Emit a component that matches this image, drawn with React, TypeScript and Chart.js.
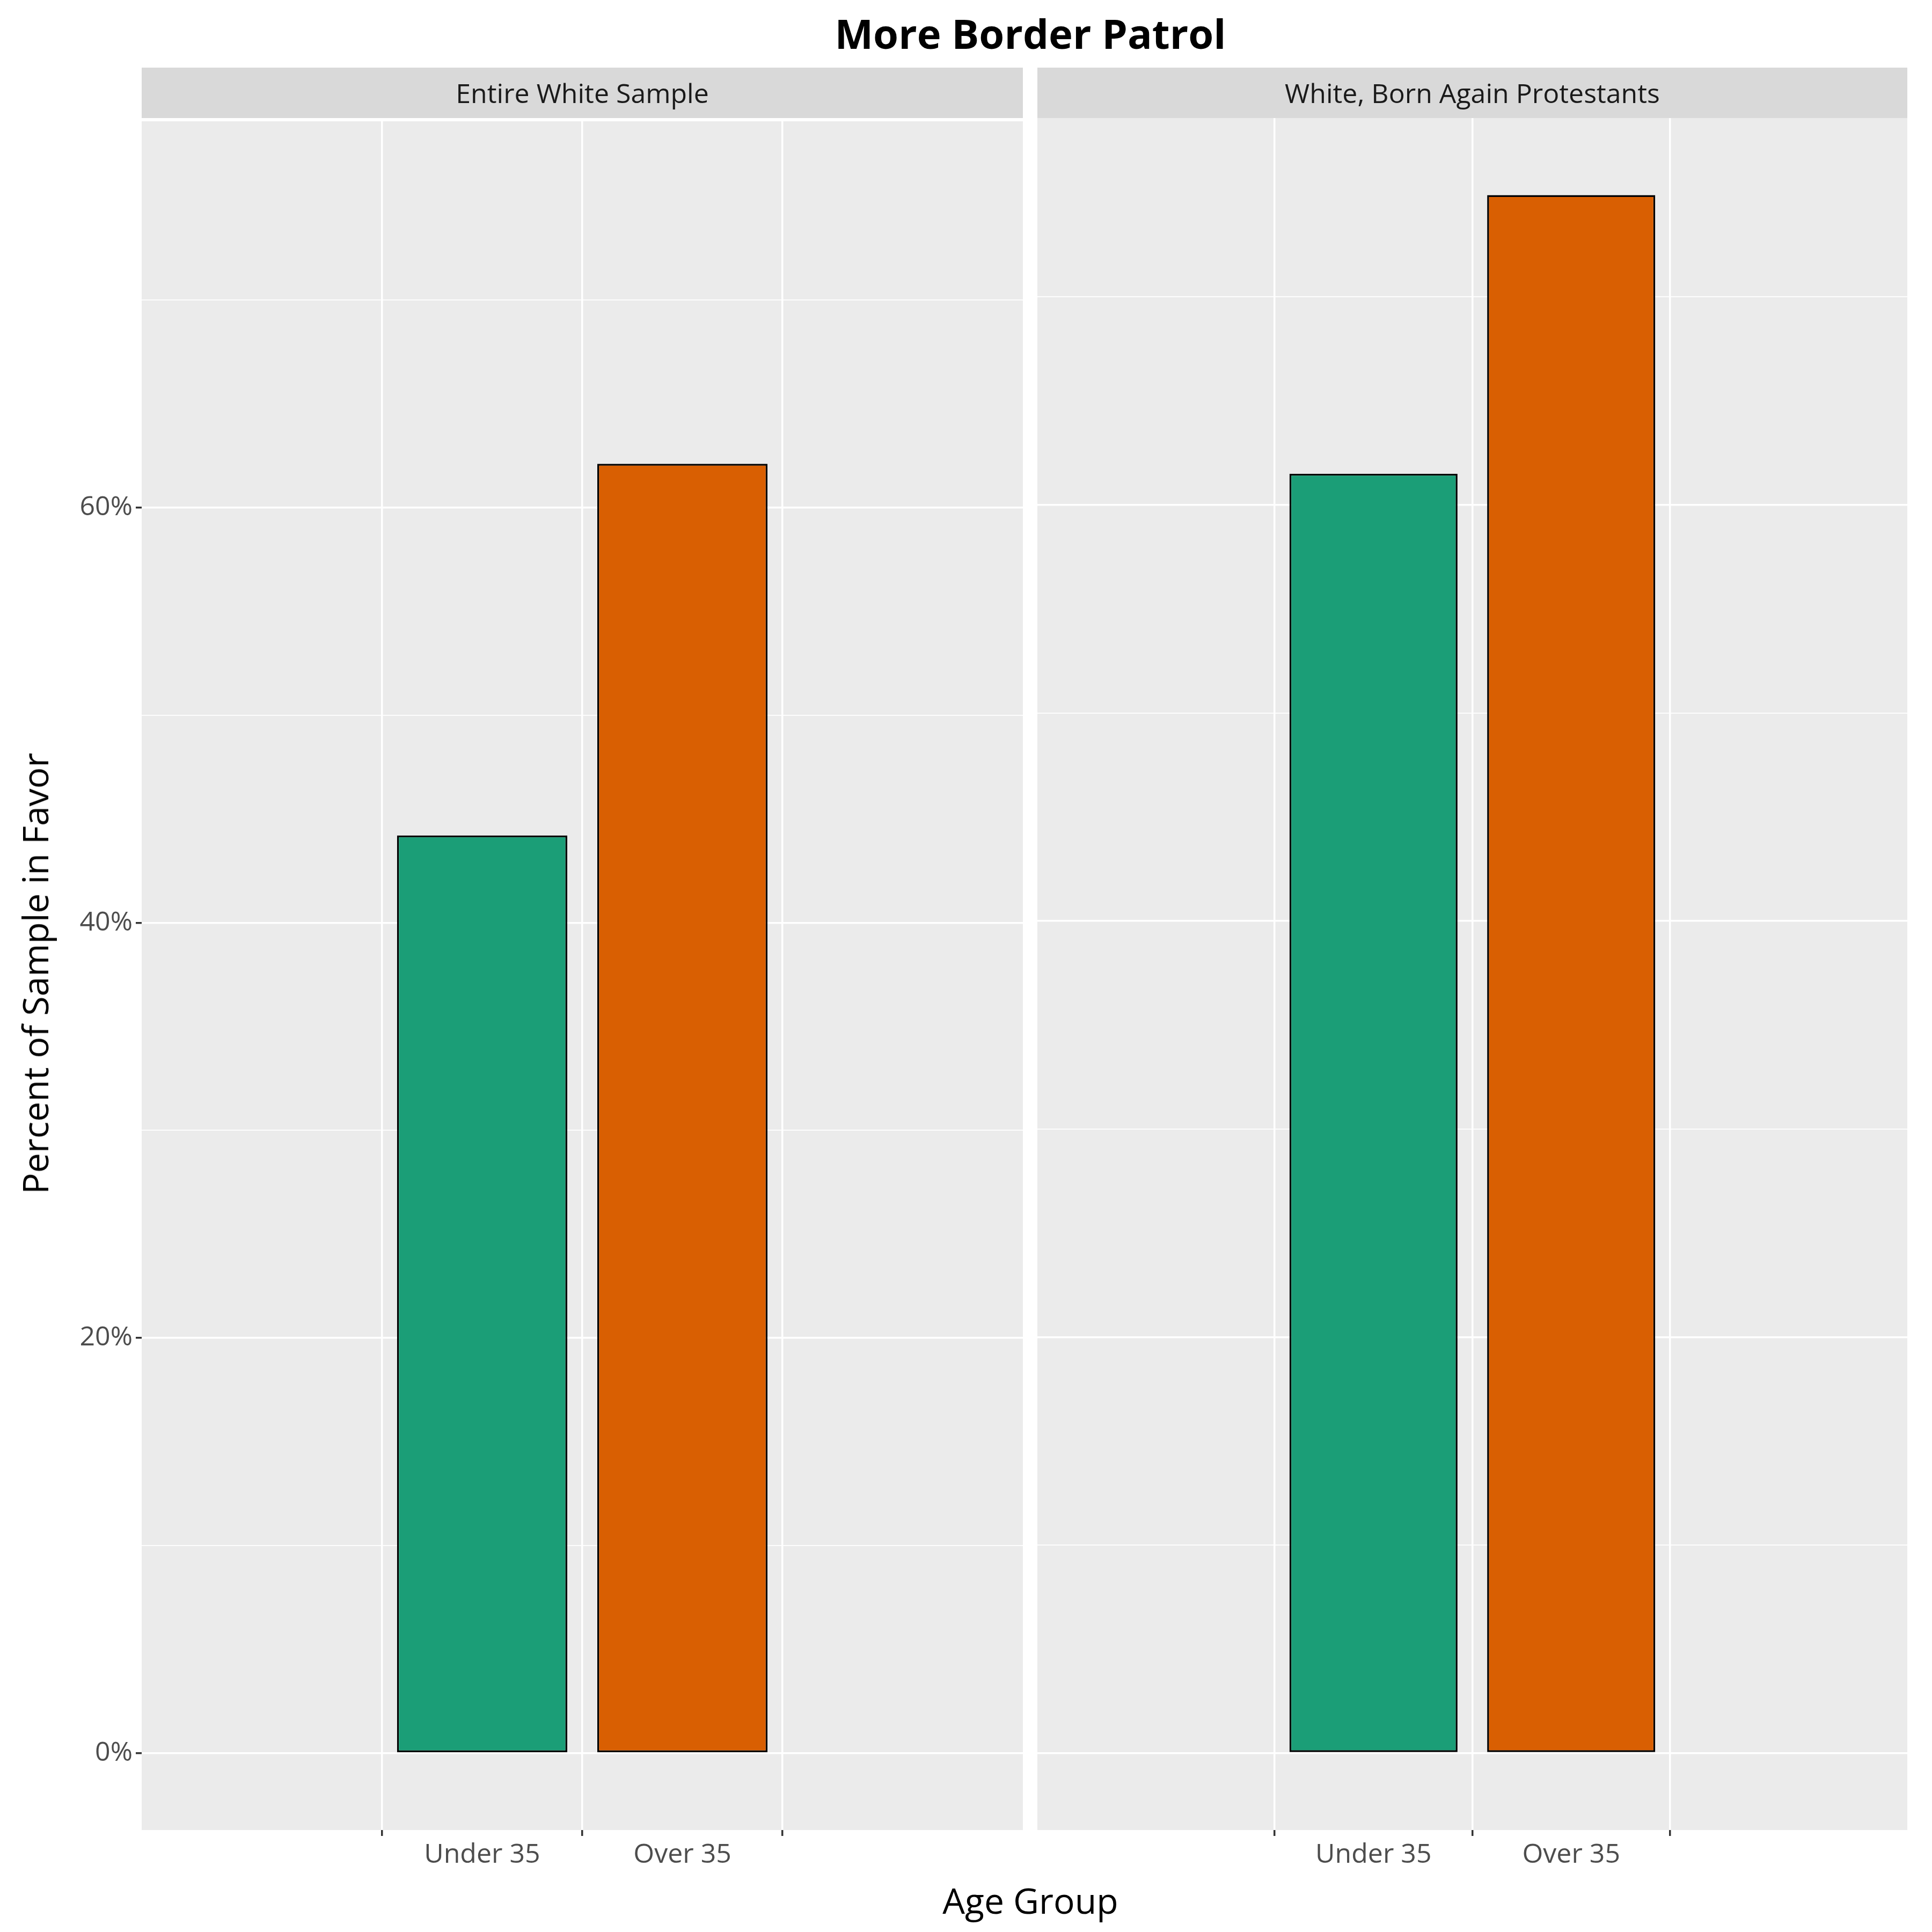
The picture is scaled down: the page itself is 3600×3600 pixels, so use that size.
import React, { useRef, useEffect } from 'react';
import { Chart, registerables } from 'chart.js';

Chart.register(...registerables);

const ageGroups = ['Under 35', 'Over 35'];
const panelTitles = ['Entire White Sample', 'White, Born Again Protestants'];
const entireWhite = [44.2, 62.1];
const bornAgain = [61.5, 74.9];
const barColors = ['#1b9e77', '#d95f02'];
const yTicks = [0, 10, 20, 30, 40, 50, 60, 70];

const FONT = '"Open Sans", "DejaVu Sans", sans-serif';
const TICK_FONT = 50;
const TOP_SHIFT = 30; // half of the y tick label line height reserved by Chart.js

const panelBg = {
  id: 'panelBg',
  beforeDraw(chart: Chart) {
    const { ctx, chartArea } = chart;
    ctx.save();
    ctx.fillStyle = '#ebebeb';
    ctx.fillRect(chartArea.left, chartArea.top, chartArea.right - chartArea.left, chartArea.bottom - chartArea.top);
    ctx.restore();
  },
};

interface PanelProps {
  values: number[];
  showY: boolean;
  style: React.CSSProperties;
}

const Panel: React.FC<PanelProps> = ({ values, showY, style }) => {
  const ref = useRef<HTMLCanvasElement>(null);

  useEffect(() => {
    if (!ref.current) return;
    const chart = new Chart(ref.current, {
      type: 'bar',
      data: {
        datasets: [{
          data: values.map((v, i) => ({ x: i + 1, y: v })),
          backgroundColor: barColors,
          borderColor: '#000000',
          borderWidth: 3.5,
          borderSkipped: false,
          categoryPercentage: 1,
          barPercentage: 0.85,
        }],
      },
      options: {
        animation: false,
        responsive: false,
        devicePixelRatio: 1,
        layout: { padding: 0 },
        plugins: { legend: { display: false }, tooltip: { enabled: false } },
        scales: {
          x: {
            type: 'linear',
            min: 0.4,
            max: 2.6,
            afterBuildTicks: (s: any) => { s.ticks = [{ value: 1 }, { value: 2 }]; },
            grid: { color: '#ffffff', lineWidth: 3.5, tickColor: '#333333', tickLength: 11 },
            border: { display: false },
            ticks: {
              color: '#4d4d4d', font: { family: FONT, size: TICK_FONT }, padding: 6,
              callback: (v: any) => ageGroups[Number(v) - 1] ?? '',
            },
            afterFit: (s: any) => { s.height = 150; },
          },
          y: {
            min: -3.7,
            max: 78.6,
            afterBuildTicks: (s: any) => { s.ticks = yTicks.map((v) => ({ value: v })); },
            grid: {
              color: '#ffffff',
              lineWidth: (c: any) => (c.tick && c.tick.value % 20 === 0 ? 3.5 : 1.7),
              tickColor: (c: any) => (showY && c.tick && c.tick.value % 20 === 0 ? '#333333' : 'transparent'),
              tickLength: showY ? 11 : 0,
              drawTicks: showY,
            },
            border: { display: false },
            ticks: {
              display: showY,
              color: '#4d4d4d',
              font: { family: FONT, size: TICK_FONT },
              padding: 6,
              callback: (v: any) => (Number(v) % 20 === 0 ? `${v}%` : ''),
            },
            afterFit: (s: any) => { s.width = showY ? 264 : 0; },
          },
        },
      },
      plugins: [panelBg],
    });
    return () => chart.destroy();
  }, [values, showY]);

  return <canvas ref={ref} width={style.width as number} height={style.height as number} style={{ position: 'absolute', ...style }} />;
};

const strip = (left: number, width: number, text: string) => (
  <div style={{
    position: 'absolute', left, top: 126, width, height: 94, background: '#d9d9d9',
    display: 'flex', alignItems: 'center', justifyContent: 'center',
    fontFamily: FONT, fontSize: 50, color: '#1a1a1a',
  }}>{text}</div>
);

export default function App() {
  return (
    <div style={{ position: 'absolute', left: 0, top: 0, width: 3600, height: 3600, background: '#ffffff', overflow: 'hidden' }}>
      <div style={{ position: 'absolute', left: 0, top: 10, width: 3840, textAlign: 'center', fontFamily: FONT, fontWeight: 'bold', fontSize: 76, color: '#000' }}>
        More Border Patrol
      </div>
      {strip(264, 1642, panelTitles[0])}
      {strip(1933, 1621, panelTitles[1])}
      <Panel values={entireWhite} showY={true} style={{ left: 0, top: 220 - TOP_SHIFT, width: 1906, height: 3340 + TOP_SHIFT }} />
      <Panel values={bornAgain} showY={false} style={{ left: 1933, top: 220, width: 1621, height: 3340 }} />
      <div style={{ position: 'absolute', left: 0, top: 3495, width: 3840, textAlign: 'center', fontFamily: FONT, fontSize: 66, color: '#000' }}>
        Age Group
      </div>
      <div style={{
        position: 'absolute', left: 64, top: 1814, transform: 'translate(-50%, -50%) rotate(-90deg)',
        whiteSpace: 'nowrap', fontFamily: FONT, fontSize: 66, color: '#000',
      }}>
        Percent of Sample in Favor
      </div>
    </div>
  );
}
